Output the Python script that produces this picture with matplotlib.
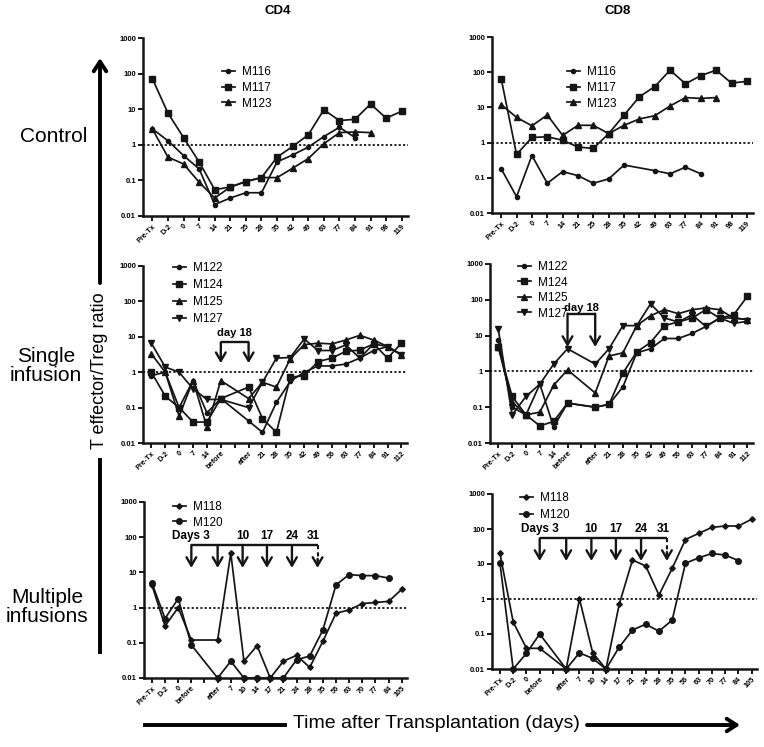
import numpy as np
import matplotlib.pyplot as plt

plt.rcParams['font.family'] = ['Liberation Sans', 'DejaVu Sans']

# ---- categories ----
ctrl_cats = ['Pre-Tx', 'D-2', '0', '7', '14', '21', '25', '28', '35', '42',
             '49', '63', '77', '84', '91', '98', '119']
single_cats = ['Pre-Tx', 'D-2', '0', '7', '14', 'before', '', 'after', '21', '28',
               '35', '42', '49', '56', '63', '77', '84', '91', '112']
multi_cats = ['Pre-Tx', 'D-2', '0', 'before', '', 'after', '7', '10', '14', '17',
              '21', '24', '28', '35', '56', '63', '70', '77', '84', '105']

# ---- Control ----
ctrl_names = ['M116', 'M117', 'M123']
ctrl_cd4_m116 = [2.8, 1.3, 0.5, 0.21, 0.021, 0.032, 0.045, 0.045, 0.33, 0.52, 0.86, 1.7, 3.1, 1.6, None, None, None]
ctrl_cd4_m117 = [72, 7.8, 1.6, 0.33, 0.055, 0.065, 0.093, 0.12, 0.45, 0.9, 1.9, 9.6, 4.8, 5.2, 14, 5.6, 8.8]
ctrl_cd4_m123 = [2.8, 0.45, 0.29, 0.089, 0.032, 0.065, 0.093, 0.12, 0.12, 0.22, 0.41, 1.07, 2.2, 2.3, 2.2, None, None]
ctrl_cd8_m116 = [0.18, 0.029, 0.43, 0.07, 0.15, 0.115, 0.07, 0.093, 0.23, None, 0.16, 0.13, 0.2, 0.13, None, None, None]
ctrl_cd8_m117 = [65, 0.46, 1.4, 1.46, 1.17, 0.75, 0.68, 1.8, 6, 20, 39, 114, 47, 80, 114, 49, 55]
ctrl_cd8_m123 = [12, 5.2, 3, 6.1, 1.6, 3.1, 3.1, 1.8, 3.1, 4.7, 5.8, 11, 19, 18, 19, None, None]

# ---- Single infusion ----
single_names = ['M122', 'M124', 'M125', 'M127']
single_cd4_m122 = [0.8, 1.0, 0.1, 0.58, 0.071, 0.18, None, 0.042, 0.02, 0.14, 0.55, 1.0, 1.5, 1.5, 1.7, 2.5, 4.1, 5.3, 3.1]
single_cd4_m124 = [1.0, 0.21, 0.1, 0.039, 0.039, 0.18, None, 0.38, 0.049, 0.02, 0.72, 0.8, 2.0, 2.5, 3.9, 4.2, 6.3, 2.5, 6.6]
single_cd4_m125 = [3.3, 1.0, 0.057, 0.58, 0.028, 0.58, None, 0.18, 0.52, 0.38, 2.4, 6.0, 6.6, 6.3, 8.1, 11, 8.1, 5.3, 3.1]
single_cd4_m127 = [6.6, 1.4, 1.0, 0.34, 0.17, 0.17, None, 0.1, 0.52, 2.5, 2.6, 8.7, 4.1, 4.1, 5.9, 2.5, 6.3, 5.3, 3.1]
single_cd8_m122 = [7.4, 0.1, 0.061, 0.44, 0.028, 0.13, None, 0.1, 0.12, 0.37, 3.3, 4.3, 8.3, 8.3, 11.5, 18, 31, 31, 28]
single_cd8_m124 = [4.8, 0.2, 0.061, 0.03, 0.04, 0.13, None, 0.1, 0.12, 0.9, 3.5, 6.4, 19, 24, 31, 53, 31, 38, 126]
single_cd8_m125 = [4.8, 0.14, 0.061, 0.073, 0.41, 1.1, None, 0.25, 2.7, 3.3, 19, 36, 53, 41, 53, 59, 53, 31, 28]
single_cd8_m127 = [15, 0.061, 0.2, 0.44, 1.6, 4.3, None, 1.6, 4.3, 19, 19, 77, 31, 24, 38, 18, 31, 22, 25]

# ---- Multiple infusions ----
multi_names = ['M118', 'M120']
multi_cd4_m118 = [4.4, 0.3, 1.0, 0.12, None, 0.12, 35, 0.03, 0.083, 0.01, 0.03, 0.044, 0.02, 0.11, 0.69, 0.86, 1.3, 1.4, 1.5, 3.3]
multi_cd4_m120 = [5.0, 0.49, 1.8, 0.087, None, 0.01, 0.03, 0.01, 0.01, 0.01, 0.01, 0.033, 0.042, 0.23, 4.4, 8.7, 8.1, 8.1, 6.9, None]
multi_cd8_m118 = [20, 0.22, 0.039, 0.039, None, 0.01, 1.0, 0.029, 0.01, 0.7, 13, 8.8, 1.3, 7.5, 50, 75, 111, 122, 122, 190]
multi_cd8_m120 = [10.5, 0.01, 0.028, 0.1, None, 0.01, 0.029, 0.02, 0.01, 0.042, 0.13, 0.19, 0.12, 0.25, 10.5, 15, 20, 18, 12.5, None]

infusion_arrows = [3, 5, 6.9, 8.75, 10.65, 12.6]
infusion_labels = ['Days 3', '', '10', '17', '24', '31']

W, H = 764, 747
fig = plt.figure(figsize=(W / 100, H / 100), dpi=100)
INK = '#151515'


def box(left, top, right, bottom):
    return [left / W, 1 - bottom / H, (right - left) / W, (bottom - top) / H]


def panel(rect, cats, series, names, markers, sizes, leg_xy, leg_sp):
    ax = fig.add_axes(box(*rect))
    ax.set_facecolor('none')
    for vals, name, m, ms in zip(series, names, markers, sizes):
        xs = [i for i, v in enumerate(vals) if v is not None]
        ys = [v for v in vals if v is not None]
        ax.plot(xs, ys, marker=m, ms=ms, color=INK, lw=1.25, label=name,
                clip_on=False, zorder=3)
    ax.set_yscale('log')
    ax.set_ylim(0.01, 1000)
    ax.set_xlim(-0.6, len(cats) - 0.6)
    ax.set_yticks([0.01, 0.1, 1, 10, 100, 1000])
    ax.set_yticklabels(['0.01', '0.1', '1', '10', '100', '1000'],
                       fontsize=5.5, fontweight='bold')
    ax.minorticks_off()
    ax.set_xticks(np.arange(len(cats)))
    ax.set_xticklabels(cats, rotation=45, ha='right', rotation_mode='anchor',
                       fontsize=5.3, fontweight='bold')
    ax.tick_params(length=3.5, width=1.4, pad=1.5, color=INK)
    ax.axhline(1, color=INK, ls=(0, (1.2, 1.2)), lw=1.3, zorder=1)
    for s in ['top', 'right']:
        ax.spines[s].set_visible(False)
    for s in ['left', 'bottom']:
        ax.spines[s].set_linewidth(1.8)
        ax.spines[s].set_color(INK)
    ax.legend(loc='upper left', bbox_to_anchor=(leg_xy[0] / W, 1 - leg_xy[1] / H),
              bbox_transform=fig.transFigure, frameon=False, fontsize=8.5,
              borderpad=0, handlelength=1.1, handletextpad=0.6,
              labelspacing=leg_sp, borderaxespad=0)
    return ax


def bracket(ax, xs, top, tip, dashed_last=False):
    ax.plot([xs[0], xs[-1]], [top, top], color=INK, lw=1.7, solid_capstyle='butt')
    arrow = dict(arrowstyle='->,head_width=0.35,head_length=0.6', lw=1.7,
                 color=INK, shrinkA=0, shrinkB=0)
    for i, xv in enumerate(xs):
        if dashed_last and i == len(xs) - 1:
            ax.plot([xv, xv], [top, tip * 1.6], color=INK, lw=1.5, ls=(0, (2, 1.5)))
            ax.annotate('', xy=(xv, tip), xytext=(xv, tip * 1.8), arrowprops=arrow)
        else:
            ax.annotate('', xy=(xv, tip), xytext=(xv, top), arrowprops=arrow)


ctrl_m = ['o', 's', '^']
ctrl_s = [3.0, 3.8, 4.0]
single_m = ['o', 's', '^', 'v']
single_s = [3.0, 3.8, 4.0, 4.0]
multi_m = ['D', 'o']
multi_s = [2.8, 4.0]

axA = panel((143, 38, 408, 216), ctrl_cats, [ctrl_cd4_m116, ctrl_cd4_m117, ctrl_cd4_m123],
            ctrl_names, ctrl_m, ctrl_s, (222, 66), 0.32)
axB = panel((492, 37, 753, 213), ctrl_cats, [ctrl_cd8_m116, ctrl_cd8_m117, ctrl_cd8_m123],
            ctrl_names, ctrl_m, ctrl_s, (567, 66), 0.32)
axC = panel((143, 266, 407, 443), single_cats,
            [single_cd4_m122, single_cd4_m124, single_cd4_m125, single_cd4_m127],
            single_names, single_m, single_s, (173, 262), 0.42)
axD = panel((490, 264, 753, 443), single_cats,
            [single_cd8_m122, single_cd8_m124, single_cd8_m125, single_cd8_m127],
            single_names, single_m, single_s, (518, 261), 0.3)
axE = panel((144, 502, 407, 678), multi_cats, [multi_cd4_m118, multi_cd4_m120],
            multi_names, multi_m, multi_s, (173, 501), 0.3)
axF = panel((492, 494, 757, 669), multi_cats, [multi_cd8_m118, multi_cd8_m120],
            multi_names, multi_m, multi_s, (520, 492), 0.45)

# day 18 brackets (single infusion)
bracket(axC, [5, 7], 7, 1.8)
axC.text(6, 9.5, 'day 18', ha='center', va='bottom', fontsize=8, fontweight='bold')
bracket(axD, [5, 7], 41, 4.8)
axD.text(6, 44, 'day 18', ha='center', va='bottom', fontsize=8, fontweight='bold')

# infusion brackets (multiple infusions)
for ax, top, tip, ty in [(axE, 60, 13.4, 75), (axF, 54, 12.2, 68)]:
    bracket(ax, infusion_arrows, top, tip, dashed_last=True)
    for xv, lab in zip(infusion_arrows, infusion_labels):
        if lab:
            off = -0.3 if lab == '31' else 0
            ax.text(xv + off, ty, lab, ha='center', va='bottom', fontsize=8.5,
                    fontweight='bold')

# ---- figure-level labels and arrows ----
ov = fig.add_axes([0, 0, 1, 1], zorder=-1)
ov.set_xlim(0, W)
ov.set_ylim(H, 0)
ov.axis('off')

fig.text(278 / W, 1 - 11 / H, 'CD4', ha='center', va='center', fontsize=9.5, fontweight='bold')
fig.text(618 / W, 1 - 11 / H, 'CD8', ha='center', va='center', fontsize=9.5, fontweight='bold')

ov.text(54, 136, 'Control', ha='center', va='center', fontsize=15)
ov.text(46, 366, 'Single\ninfusion', ha='center', va='center', fontsize=15, linespacing=1.05)
ov.text(47, 607, 'Multiple\ninfusions', ha='center', va='center', fontsize=15, linespacing=1.05)

ov.annotate('', xy=(100, 58), xytext=(100, 283),
            arrowprops=dict(arrowstyle='->,head_width=0.45,head_length=0.7', lw=2.8,
                            color='k', shrinkA=0, shrinkB=0))
ov.plot([100, 100], [460, 652], color='k', lw=2.8)
ov.text(100, 371, 'T effector/Treg ratio', rotation=90, ha='center', va='center', fontsize=13)

ov.plot([145, 285], [725, 725], color='k', lw=2.8)
ov.annotate('', xy=(740, 725), xytext=(587, 725),
            arrowprops=dict(arrowstyle='->,head_width=0.45,head_length=0.7', lw=2.8,
                            color='k', shrinkA=0, shrinkB=0))
ov.text(436, 724, 'Time after Transplantation (days)', ha='center', va='center', fontsize=14)

fig.savefig('out.png', dpi=100)
